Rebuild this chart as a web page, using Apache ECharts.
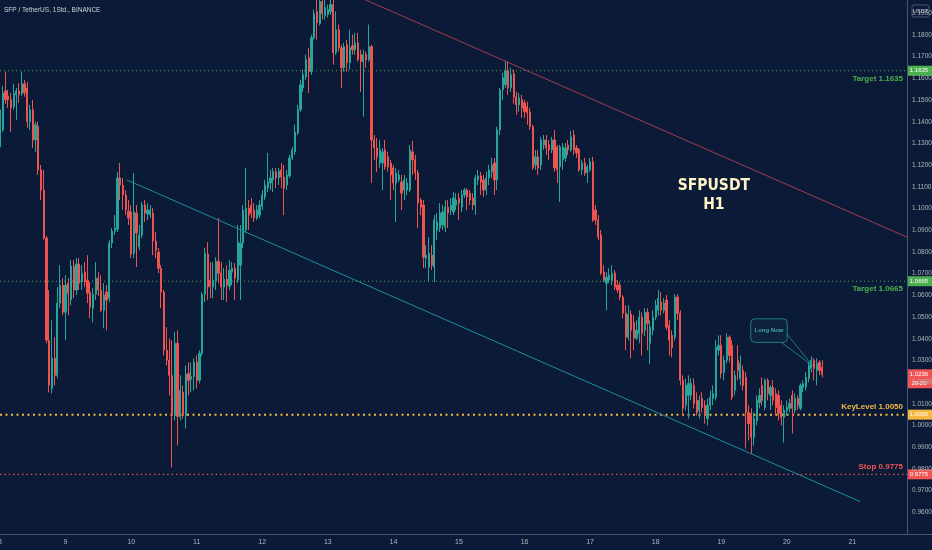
<!DOCTYPE html>
<html><head><meta charset="utf-8">
<script src="https://cdn.jsdelivr.net/npm/echarts@6/dist/echarts.min.js"></script>
<style>html,body{margin:0;padding:0;background:#0b1a36;}#c{width:932px;height:550px;}</style>
</head><body><div id="c"></div>
<script>
// ---------- data ----------
const chartTitle = 'SFP / TetherUS, 1Std., BINANCE';
const dayLabels = ['8','9','10','11','12','13','14','15','16','17','18','19','20','21'];
const hoursPerDay = 24;
const xMax = 332;
const yMin = 0.95, yMax = 1.1961, yStep = 0.01;

// hourly candles per day: [open, close, low, high]
const day08 = [
[1.1284,1.1455,1.1270,1.1524],[1.1362,1.1533,1.1353,1.1565],[1.1542,1.1501,1.1483,1.1631],[1.1519,1.1501,1.1464,1.1547],
[1.1501,1.1464,1.1353,1.1533],[1.1469,1.1529,1.1455,1.1575],[1.1524,1.1542,1.1409,1.1556],[1.1542,1.1524,1.1487,1.1579],
[1.1529,1.1575,1.1519,1.1631],[1.1575,1.1533,1.1515,1.1593],[1.1556,1.1400,1.1372,1.1584],[1.1400,1.1455,1.1362,1.1478],
[1.1455,1.1316,1.1279,1.1501],[1.1316,1.1386,1.1261,1.1400],[1.1377,1.1178,1.1155,1.1400],[1.1178,1.1085,1.1039,1.1201],
[1.1085,1.0864,1.0855,1.1178],[1.0864,1.0393,1.0379,1.0873],[1.0393,1.0185,1.0153,1.0624],[1.0171,1.0310,1.0148,1.0485],
[1.0310,1.0231,1.0185,1.0407],[1.0231,1.0564,1.0217,1.0638],[1.0564,1.0647,1.0541,1.0739],[1.0647,1.0522,1.0508,1.0679]];
const day09 = [
[1.0522,1.0647,1.0393,1.0693],[1.0656,1.0610,1.0508,1.0679],[1.0578,1.0734,1.0554,1.0762],[1.0734,1.0624,1.0587,1.0762],
[1.0624,1.0744,1.0601,1.0771],[1.0744,1.0656,1.0624,1.0771],[1.0661,1.0702,1.0624,1.0739],[1.0707,1.0661,1.0638,1.0753],
[1.0670,1.0610,1.0564,1.0785],[1.0615,1.0546,1.0494,1.0661],[1.0541,1.0605,1.0476,1.0633],[1.0605,1.0679,1.0578,1.0753],
[1.0679,1.0624,1.0596,1.0707],[1.0624,1.0531,1.0522,1.0693],[1.0531,1.0601,1.0448,1.0656],[1.0615,1.0578,1.0439,1.0647],
[1.0587,1.0841,1.0569,1.0855],[1.0841,1.0896,1.0818,1.0910],[1.0896,1.0910,1.0878,1.0970],[1.0905,1.1141,1.0892,1.1169],
[1.1141,1.1108,1.1039,1.1210],[1.1108,1.1062,1.0993,1.1141],[1.1062,1.0993,1.0970,1.1085],[1.0988,1.0956,1.0924,1.1039]];
const day10 = [
[1.0984,1.0790,1.0771,1.1016],[1.0794,1.0984,1.0771,1.1164],[1.0979,1.0887,1.0730,1.1016],[1.0823,1.0878,1.0808,1.0924],
[1.0878,1.1016,1.0864,1.1030],[1.1016,1.0979,1.0938,1.1039],[1.0975,1.0993,1.0947,1.1025],[1.0970,1.0993,1.0956,1.1016],
[1.0979,1.0850,1.0785,1.1002],[1.0850,1.0808,1.0771,1.0892],[1.0799,1.0725,1.0702,1.0818],[1.0725,1.0615,1.0541,1.0739],
[1.0615,1.0347,1.0323,1.0624],[1.0347,1.0301,1.0277,1.0453],[1.0301,1.0231,1.0139,1.0402],[1.0231,1.0046,0.9807,1.0393],
[1.0046,1.0379,1.0023,1.0430],[1.0379,1.0042,0.9908,1.0439],[1.0042,1.0162,1.0023,1.0231],[1.0153,1.0046,1.0032,1.0185],
[1.0046,1.0236,0.9986,1.0277],[1.0240,1.0208,1.0139,1.0291],[1.0213,1.0226,1.0153,1.0291],[1.0226,1.0291,1.0162,1.0310]];
const day11 = [
[1.0291,1.0208,1.0171,1.0323],[1.0208,1.0333,1.0194,1.0347],[1.0333,1.0605,1.0319,1.0615],[1.0605,1.0794,1.0569,1.0818],
[1.0790,1.0638,1.0578,1.0845],[1.0670,1.0642,1.0587,1.0753],[1.0638,1.0670,1.0587,1.0753],[1.0670,1.0757,1.0624,1.0776],
[1.0757,1.0702,1.0656,1.0956],[1.0702,1.0638,1.0578,1.0753],[1.0638,1.0674,1.0578,1.0725],[1.0674,1.0647,1.0569,1.0739],
[1.0642,1.0716,1.0624,1.0762],[1.0707,1.0725,1.0647,1.0753],[1.0725,1.0679,1.0578,1.0748],[1.0670,1.0845,1.0656,1.0924],
[1.0739,1.0841,1.0578,1.0924],[1.0841,1.0993,1.0818,1.1016],[1.0901,1.1002,1.0887,1.1187],[1.1002,1.0970,1.0901,1.1039],
[1.1016,1.0979,1.0956,1.1048],[1.0993,1.0956,1.0938,1.1025],[1.0956,1.0993,1.0947,1.1016],[1.0970,1.1016,1.0956,1.1039]];
const day12 = [
[1.1011,1.1062,1.0993,1.1085],[1.1053,1.1108,1.1039,1.1132],[1.1094,1.1122,1.1076,1.1256],[1.1118,1.1141,1.1085,1.1178],
[1.1132,1.1169,1.1076,1.1187],[1.1169,1.1141,1.1094,1.1187],[1.1141,1.1173,1.1108,1.1187],[1.1178,1.1145,1.1094,1.1210],
[1.1145,1.1094,1.0970,1.1201],[1.1108,1.1155,1.1085,1.1178],[1.1150,1.1233,1.1141,1.1247],[1.1233,1.1270,1.1224,1.1284],
[1.1261,1.1353,1.1247,1.1386],[1.1349,1.1455,1.1339,1.1478],[1.1455,1.1570,1.1446,1.1593],[1.1556,1.1616,1.1538,1.1640],
[1.1607,1.1686,1.1593,1.1709],[1.1695,1.1631,1.1533,1.1741],[1.1631,1.1787,1.1616,1.1801],[1.1787,1.1898,1.1778,1.1917],
[1.1908,1.1857,1.1778,1.1986],[1.1852,1.1954,1.1843,1.2000],[1.1954,1.1898,1.1871,1.1986],[1.1889,1.1926,1.1871,1.1972]];
const day13 = [
[1.1894,1.1917,1.1880,1.1940],[1.1908,1.1940,1.1894,1.1963],[1.1940,1.1718,1.1663,1.1963],[1.1718,1.1824,1.1709,1.1908],
[1.1824,1.1741,1.1723,1.1848],[1.1741,1.1649,1.1556,1.1755],[1.1649,1.1746,1.1631,1.1764],[1.1755,1.1672,1.1631,1.1778],
[1.1672,1.1741,1.1640,1.1824],[1.1750,1.1732,1.1709,1.1801],[1.1732,1.1764,1.1709,1.1810],[1.1764,1.1686,1.1677,1.1810],
[1.1709,1.1677,1.1538,1.1732],[1.1677,1.1709,1.1423,1.1732],[1.1709,1.1686,1.1649,1.1723],[1.1686,1.1746,1.1677,1.1848],
[1.1746,1.1316,1.1118,1.1755],[1.1316,1.1279,1.1224,1.1339],[1.1279,1.1238,1.1169,1.1325],[1.1210,1.1270,1.1187,1.1316],
[1.1210,1.1261,1.1085,1.1279],[1.1270,1.1192,1.1178,1.1316],[1.1238,1.1192,1.1169,1.1261],[1.1210,1.1155,1.1039,1.1224]];
const day14 = [
[1.1187,1.1118,1.1085,1.1201],[1.1118,1.1164,1.0938,1.1187],[1.1132,1.1155,1.1122,1.1178],[1.1122,1.1071,1.0993,1.1155],
[1.1085,1.1132,1.1039,1.1155],[1.1085,1.1118,1.1062,1.1141],[1.1085,1.1270,1.1076,1.1293],[1.1261,1.1224,1.1155,1.1312],
[1.1224,1.1164,1.1132,1.1247],[1.1164,1.1025,1.0910,1.1178],[1.1039,1.1007,1.0970,1.1048],[1.1016,1.0776,1.0725,1.1039],
[1.0771,1.0785,1.0725,1.0831],[1.0730,1.0794,1.0661,1.0868],[1.0785,1.0739,1.0716,1.0831],[1.0730,1.0947,1.0661,1.0970],
[1.0901,1.0938,1.0855,1.0979],[1.0910,1.0979,1.0892,1.1025],[1.0924,1.0984,1.0901,1.1016],[1.0915,1.1007,1.0892,1.1039],
[1.1007,1.0979,1.0910,1.1039],[1.0993,1.1016,1.0970,1.1048],[1.0984,1.1048,1.0970,1.1076],[1.1016,1.1039,1.0993,1.1071]];
const day15 = [
[1.1048,1.1025,1.0947,1.1071],[1.1007,1.1062,1.0984,1.1085],[1.1062,1.1085,1.1048,1.1094],[1.1085,1.1053,1.0993,1.1094],
[1.1071,1.1039,1.1016,1.1085],[1.1048,1.1016,1.0993,1.1071],[1.1016,1.1141,1.0970,1.1155],[1.1132,1.1150,1.1108,1.1178],
[1.1150,1.1122,1.1062,1.1169],[1.1132,1.1085,1.1053,1.1155],[1.1085,1.1141,1.1062,1.1169],[1.1141,1.1178,1.1108,1.1201],
[1.1169,1.1201,1.1141,1.1233],[1.1210,1.1132,1.1062,1.1233],[1.1132,1.1362,1.1085,1.1377],[1.1362,1.1547,1.1339,1.1556],
[1.1547,1.1603,1.1501,1.1626],[1.1570,1.1635,1.1556,1.1681],[1.1635,1.1556,1.1524,1.1677],[1.1556,1.1616,1.1538,1.1649],
[1.1621,1.1515,1.1483,1.1640],[1.1515,1.1478,1.1432,1.1538],[1.1478,1.1510,1.1446,1.1533],[1.1501,1.1464,1.1418,1.1524]];
const day16 = [
[1.1487,1.1446,1.1418,1.1501],[1.1469,1.1441,1.1386,1.1492],[1.1446,1.1377,1.1362,1.1464],[1.1377,1.1187,1.1178,1.1386],
[1.1201,1.1238,1.1178,1.1270],[1.1238,1.1187,1.1155,1.1270],[1.1201,1.1316,1.1178,1.1330],[1.1293,1.1316,1.1270,1.1339],
[1.1316,1.1279,1.1247,1.1339],[1.1293,1.1270,1.1224,1.1316],[1.1270,1.1316,1.1256,1.1330],[1.1316,1.1187,1.1169,1.1362],
[1.1284,1.1178,1.1118,1.1293],[1.1192,1.1284,1.1030,1.1293],[1.1224,1.1284,1.1178,1.1302],[1.1233,1.1279,1.1215,1.1302],
[1.1293,1.1270,1.1247,1.1316],[1.1270,1.1330,1.1261,1.1358],[1.1339,1.1270,1.1247,1.1362],[1.1279,1.1256,1.1233,1.1293],
[1.1270,1.1178,1.1169,1.1279],[1.1178,1.1210,1.1155,1.1224],[1.1210,1.1164,1.1150,1.1233],[1.1164,1.1192,1.1118,1.1201]];
const day17 = [
[1.1178,1.1215,1.1169,1.1233],[1.1215,1.0947,1.0938,1.1238],[1.0993,1.0947,1.0924,1.1016],[1.0947,1.0868,1.0855,1.0970],
[1.0878,1.0702,1.0693,1.0901],[1.0707,1.0670,1.0661,1.0739],[1.0656,1.0684,1.0531,1.0707],[1.0670,1.0693,1.0656,1.0725],
[1.0670,1.0702,1.0647,1.0739],[1.0702,1.0638,1.0624,1.0716],[1.0647,1.0624,1.0610,1.0670],[1.0647,1.0592,1.0578,1.0661],
[1.0592,1.0517,1.0494,1.0601],[1.0517,1.0407,1.0347,1.0554],[1.0407,1.0512,1.0393,1.0554],[1.0512,1.0439,1.0310,1.0531],
[1.0476,1.0402,1.0347,1.0508],[1.0402,1.0439,1.0393,1.0485],[1.0425,1.0499,1.0379,1.0531],[1.0499,1.0425,1.0323,1.0522],
[1.0439,1.0522,1.0411,1.0541],[1.0522,1.0471,1.0347,1.0541],[1.0379,1.0453,1.0282,1.0485],[1.0439,1.0499,1.0416,1.0531]];
const day18 = [
[1.0499,1.0554,1.0485,1.0578],[1.0531,1.0587,1.0508,1.0624],[1.0569,1.0531,1.0508,1.0615],[1.0531,1.0564,1.0517,1.0587],
[1.0578,1.0453,1.0439,1.0601],[1.0462,1.0393,1.0323,1.0485],[1.0416,1.0360,1.0314,1.0439],[1.0407,1.0592,1.0393,1.0605],
[1.0592,1.0517,1.0485,1.0605],[1.0517,1.0208,1.0185,1.0531],[1.0208,1.0079,1.0046,1.0231],[1.0093,1.0185,1.0070,1.0217],
[1.0139,1.0194,1.0032,1.0231],[1.0139,1.0194,1.0116,1.0217],[1.0185,1.0102,1.0079,1.0217],[1.0116,1.0060,1.0046,1.0153],
[1.0070,1.0116,1.0032,1.0139],[1.0125,1.0083,1.0060,1.0153],[1.0093,1.0046,1.0009,1.0116],[1.0032,1.0093,1.0000,1.0125],
[1.0093,1.0130,1.0070,1.0162],[1.0125,1.0148,1.0093,1.0185],[1.0130,1.0360,1.0116,1.0393],[1.0347,1.0370,1.0323,1.0416]];
const day19 = [
[1.0370,1.0240,1.0217,1.0416],[1.0245,1.0301,1.0208,1.0323],[1.0301,1.0407,1.0286,1.0425],[1.0407,1.0323,1.0291,1.0416],
[1.0370,1.0130,1.0116,1.0393],[1.0162,1.0231,1.0139,1.0254],[1.0301,1.0254,1.0208,1.0370],[1.0217,1.0286,1.0185,1.0323],
[1.0254,1.0185,1.0162,1.0277],[1.0222,1.0060,0.9894,1.0245],[1.0060,1.0009,0.9931,1.0093],[1.0056,0.9945,0.9871,1.0079],
[0.9945,1.0032,0.9908,1.0060],[1.0023,1.0116,1.0000,1.0139],[1.0106,1.0139,1.0079,1.0171],[1.0185,1.0116,1.0093,1.0222],
[1.0083,1.0208,1.0070,1.0217],[1.0208,1.0148,1.0116,1.0217],[1.0139,1.0176,1.0070,1.0185],[1.0176,1.0116,1.0093,1.0208],
[1.0148,1.0083,1.0046,1.0171],[1.0139,1.0056,1.0023,1.0162],[1.0093,1.0037,1.0000,1.0116],[1.0037,1.0070,0.9921,1.0093]];
const day20 = [
[1.0070,1.0083,1.0046,1.0116],[1.0079,1.0102,1.0060,1.0125],[1.0139,1.0079,0.9963,1.0162],[1.0070,1.0125,1.0056,1.0148],
[1.0125,1.0093,1.0070,1.0139],[1.0079,1.0185,1.0070,1.0194],[1.0176,1.0194,1.0153,1.0208],[1.0176,1.0222,1.0162,1.0245],
[1.0217,1.0277,1.0199,1.0291],[1.0263,1.0301,1.0245,1.0319],[1.0301,1.0263,1.0208,1.0310],[1.0254,1.0286,1.0185,1.0310],
[1.0291,1.0254,1.0231,1.0301],[1.0268,1.0236,1.0222,1.0301]];

// horizontal levels
const levelValues = [1.1635, 1.0665, 1.0050, 0.9775];
const levelTexts  = ['Target 1.1635', 'Target 1.0665', 'KeyLevel 1.0050', 'Stop 0.9775'];
const tagTexts    = ['1.1635', '1.0665', '1.0050', '0.9775'];
const currentPrice = 1.0236;
const currentTag = ['1.0236', '29:20'];

// trend lines [hourIndex, price]
const upperTrend = [[125, 1.2010], [332, 1.0868]];
const lowerTrend = [[46.4, 1.1132], [314.9, 0.9649]];

// annotations [hourIndex, price]
const symbolText = ['SFPUSDT', 'H1'];
const symbolAnchor = [261.3, 1.1106];
const calloutText = 'Long Now';
const calloutTip = [297.5, 1.0275];

// ---------- styles ----------
const BG = '#0b1a36';
const UP = '#26a69a', DOWN = '#ef5350';
const AXIS_TXT = '#b2b5be';
const levelColors = ['#4caf50', '#4caf50', '#f5b942', '#f05454'];
const levelLine = [
  {width: 1, type: [1, 3]}, {width: 1, type: [1, 3]},
  {width: 2, type: [2, 3.5]}, {width: 1.4, type: [1.4, 3]}
];
const levelLabelAbove = [false, false, true, true];
const FONT = '"Liberation Sans", Arial, sans-serif';
const BIG_FONT = 'bold 15.5px "Liberation Sans Narrow", "DejaVu Sans Condensed", "Liberation Sans", sans-serif';

// ---------- build ----------
const candles = [].concat(day08, day09, day10, day11, day12, day13, day14, day15, day16, day17, day18, day19, day20);
const seriesData = candles.map((c, i) => [i, c[0], c[1], c[2], c[3]]);

const chart = echarts.init(document.getElementById('c'), null, {renderer: 'canvas'});

const levelSeries = levelValues.map((v, k) => ({
  type: 'line', data: [[0, v], [xMax, v]], symbol: 'none', silent: true, clip: true, z: 1,
  lineStyle: {color: levelColors[k], width: levelLine[k].width, type: levelLine[k].type}
}));

const option = {
  backgroundColor: BG,
  animation: false,
  grid: {left: 0, right: 25, top: 0, bottom: 16, containLabel: false, outerBoundsMode: 'none'},
  xAxis: {
    type: 'value', min: 0, max: xMax, interval: hoursPerDay,
    axisLine: {show: true, onZero: false, lineStyle: {color: '#4a5670', width: 1}},
    axisTick: {show: false}, splitLine: {show: false},
    axisLabel: {color: AXIS_TXT, fontSize: 7, margin: 5, fontFamily: FONT, showMaxLabel: false, hideOverlap: false,
      formatter: v => { const k = Math.round(v / hoursPerDay); return (Math.abs(v - k*hoursPerDay) < 1e-6 && dayLabels[k]) ? dayLabels[k] : ''; }}
  },
  yAxis: {
    type: 'value', position: 'right', min: yMin, max: yMax, interval: yStep,
    axisLine: {show: true, onZero: false, lineStyle: {color: '#4a5670', width: 1}},
    axisTick: {show: false}, splitLine: {show: false},
    axisLabel: {color: AXIS_TXT, fontSize: 6.5, margin: 5, fontFamily: FONT, showMinLabel: false, showMaxLabel: false,
      formatter: v => v.toFixed(4)}
  },
  series: [
    ...levelSeries,
    {
      type: 'candlestick', data: seriesData, barWidth: 1.7, clip: true, z: 2,
      itemStyle: {color: UP, color0: DOWN, borderColor: UP, borderColor0: DOWN, borderWidth: 1}
    },
    {type: 'line', data: upperTrend, symbol: 'none', silent: true, clip: true, z: 3,
      lineStyle: {color: '#a53b53', width: 1}},
    {type: 'line', data: lowerTrend, symbol: 'none', silent: true, clip: true, z: 3,
      lineStyle: {color: '#1c8f9a', width: 1}}
  ]
};
chart.setOption(option);

// ---------- overlay graphics positioned through the chart scales ----------
const px = p => chart.convertToPixel({gridIndex: 0}, p);
const gridRight = px([xMax, yMin])[0];
const gridBottom = px([0, yMin])[1];
const g = [];
const centered = {textAlign: 'center', align: 'center', textVerticalAlign: 'middle', verticalAlign: 'middle'};

// title
g.push({type: 'text', x: 4, y: 10, style: {text: chartTitle, fill: '#d1d4dc', font: '6.5px ' + FONT,
  textVerticalAlign: 'middle', verticalAlign: 'middle'}});

// bottom axis line extension
g.push({type: 'line', shape: {x1: gridRight, y1: gridBottom + 0.5, x2: 932, y2: gridBottom + 0.5},
  style: {stroke: '#4a5670', lineWidth: 1}});

// USDT box
g.push({type: 'rect', shape: {x: 912, y: 5, width: 17, height: 12, r: 2},
  style: {fill: BG, stroke: '#4a5670', lineWidth: 1}});
g.push({type: 'text', x: 920.5, y: 11, style: Object.assign({text: 'USDT', fill: '#d1d4dc', font: '5.5px ' + FONT}, centered)});

// level texts and price tags
levelValues.forEach((v, k) => {
  const y = px([0, v])[1];
  g.push({type: 'text', x: gridRight - 4, y: levelLabelAbove[k] ? y - 8 : y + 8,
    style: {text: levelTexts[k], fill: levelColors[k], font: 'bold 8px ' + FONT,
      textAlign: 'right', align: 'right', textVerticalAlign: 'middle', verticalAlign: 'middle'}});
  g.push({type: 'rect', shape: {x: gridRight + 0.5, y: y - 5, width: 25, height: 10},
    style: {fill: levelColors[k]}});
  g.push({type: 'text', x: gridRight + 12, y: y, style: Object.assign({text: tagTexts[k], fill: '#ffffff', font: '6px ' + FONT}, centered)});
});

// current price tag
{
  const y = px([0, currentPrice])[1];
  g.push({type: 'rect', shape: {x: gridRight + 0.5, y: y - 5, width: 25, height: 19},
    style: {fill: '#f05454'}});
  g.push({type: 'text', x: gridRight + 12, y: y, style: Object.assign({text: currentTag[0], fill: '#ffffff', font: '6px ' + FONT}, centered)});
  g.push({type: 'text', x: gridRight + 12, y: y + 9, style: Object.assign({text: currentTag[1], fill: '#ffffff', font: '6px ' + FONT}, centered)});
}

// symbol annotation
{
  const p = px(symbolAnchor);
  g.push({type: 'text', x: p[0], y: p[1], style: Object.assign({text: symbolText[0], fill: '#fff4c6', font: BIG_FONT}, centered)});
  g.push({type: 'text', x: p[0], y: p[1] + 19, style: Object.assign({text: symbolText[1], fill: '#fff4c6', font: BIG_FONT}, centered)});
}

// callout
{
  const t = px(calloutTip);
  const bx = t[0] - 62, by = t[1] - 47, bw = 36.5, bh = 23.5;
  g.push({type: 'rect', shape: {x: bx, y: by, width: bw, height: bh, r: 4},
    style: {fill: 'rgba(30,140,150,0.07)', stroke: '#1d7f8a', lineWidth: 1}});
  g.push({type: 'polyline', shape: {points: [[bx + bw - 6, by + bh], [t[0], t[1]], [bx + bw, by + bh - 8]]},
    style: {stroke: '#1d7f8a', lineWidth: 1, fill: null}});
  g.push({type: 'text', x: bx + bw / 2, y: by + bh / 2, style: Object.assign({text: calloutText, fill: '#4aa3a8', font: 'bold 6px ' + FONT}, centered)});
}

chart.setOption({graphic: {elements: g}});
</script>
</body></html>
